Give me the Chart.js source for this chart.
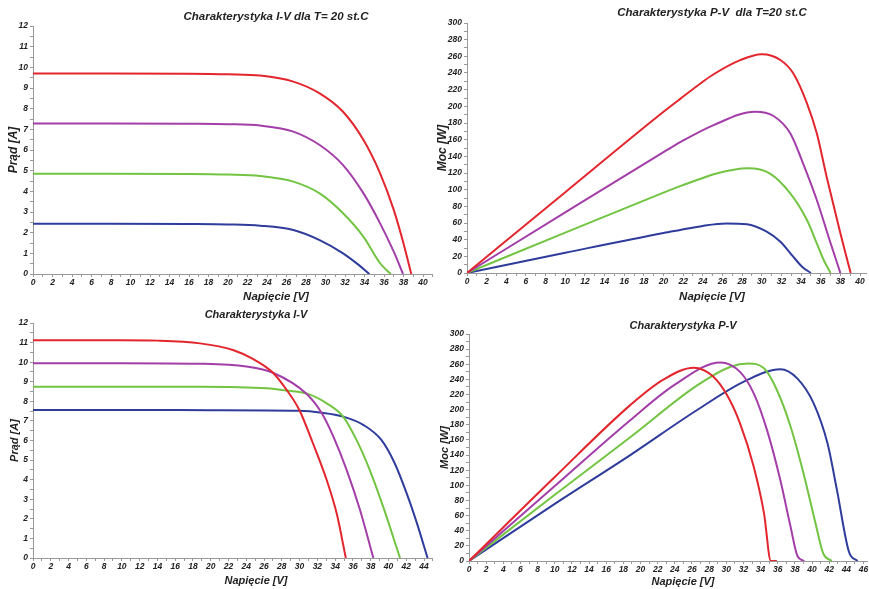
<!DOCTYPE html>
<html>
<head>
<meta charset="utf-8">
<script src="https://cdn.jsdelivr.net/npm/chart.js@4"></script>
<style>
    html, body { margin: 0; padding: 0; background: #fff; overflow: hidden; }
    body { position: relative; width: 869px; height: 589px; }
    canvas { position: absolute; }
</style>
</head>
<body>
<canvas id="ivT20" width="445" height="310" style="left:0;top:0"></canvas>
<canvas id="pvT20" width="450" height="310" style="left:425px;top:0"></canvas>
<canvas id="ivTemp" width="445" height="295" style="left:0;top:295px"></canvas>
<canvas id="pvTemp" width="450" height="295" style="left:425px;top:295px"></canvas>
<script>
// ── Charakterystyka I-V dla T=20 st.C ──
const ivT20RedV = [0, 8, 16, 20, 23.3, 26.7, 29.4, 31.8, 33.9, 35.6, 37.0, 38.0, 38.8];
const ivT20RedI = [9.7, 9.7, 9.69, 9.66, 9.6, 9.31, 8.74, 7.85, 6.48, 4.87, 3.1, 1.48, 0];
const ivT20PurpleV = [0, 8, 16, 20, 23.3, 26.7, 29.4, 31.8, 33.9, 35.6, 37.0, 37.95];
const ivT20PurpleI = [7.28, 7.28, 7.27, 7.25, 7.18, 6.89, 6.24, 5.27, 3.9, 2.45, 1.08, 0];
const ivT20GreenV = [0, 8, 16, 20, 23.3, 26.7, 29.4, 31.8, 33.9, 35.6, 36.7];
const ivT20GreenI = [4.85, 4.85, 4.84, 4.81, 4.74, 4.47, 3.9, 2.94, 1.8, 0.52, 0];
const ivT20BlueV = [0, 8, 16, 20, 23.3, 26.7, 29.4, 31.8, 33.4, 34.5];
const ivT20BlueI = [2.43, 2.43, 2.42, 2.4, 2.34, 2.13, 1.64, 1.0, 0.44, 0];

// ── Charakterystyka P-V dla T=20 st.C ──
const pvT20RedV = [0, 10, 20, 21.7, 24, 25.1, 27.8, 30.0, 31.9, 33.2, 34.6, 35.6, 36.6, 38.0, 39.05];
const pvT20RedP = [0, 97, 193.5, 209, 229.5, 238.5, 255.5, 262.5, 255.6, 239.6, 203.6, 167.6, 115.6, 47.6, 0];
const pvT20PurpleV = [0, 10, 20, 21.7, 25.1, 29.3, 31.2, 32.9, 34.2, 35.6, 36.9, 38.0];
const pvT20PurpleP = [0, 72.8, 145, 157, 177.5, 193.6, 188.4, 167.6, 131.6, 87.6, 39.6, 0];
const pvT20GreenV = [0, 10, 20, 21.7, 24, 25.1, 28.6, 30.8, 32.9, 34.6, 35.6, 36.3, 37.0];
const pvT20GreenP = [0, 48.5, 96.5, 104.3, 114, 118.5, 125.6, 119.6, 95.6, 63.6, 35.6, 15.6, 0];
const pvT20BlueV = [0, 10, 20, 21.7, 24, 26.4, 28.5, 30.5, 31.9, 33.2, 34.1, 35.0];
const pvT20BlueP = [0, 24.3, 48, 51.6, 56.5, 59.3, 58.6, 49.6, 37.6, 19.6, 7.6, 0];

// ── Charakterystyka I-V (rozne temperatury) ──
const ivTempRedV = [0, 10, 14, 18.8, 22.5, 24.8, 27.0, 28.55, 29.97, 31.5, 33.05, 34.17, 35.2];
const ivTempRedI = [11.12, 11.12, 11.1, 10.96, 10.62, 10.15, 9.46, 8.58, 7.56, 5.86, 3.98, 2.28, 0];
const ivTempPurpleV = [0, 10, 18.8, 24, 27.0, 30.8, 32.5, 33.8, 35.3, 36.8, 38.3];
const ivTempPurpleI = [9.95, 9.95, 9.92, 9.78, 9.46, 8.37, 7.39, 6.2, 4.49, 2.45, 0];
const ivTempGreenV = [0, 10, 18.8, 26.3, 28.55, 31.0, 33.05, 34.9, 36.4, 37.9, 39.4, 41.3];
const ivTempGreenI = [8.75, 8.75, 8.75, 8.67, 8.55, 8.37, 7.9, 7.22, 6.03, 4.49, 2.62, 0];
const ivTempBlueV = [0, 10, 20, 29.97, 32.5, 34.9, 37.2, 39.2, 40.7, 42.05, 43.2, 44.4];
const ivTempBlueI = [7.56, 7.56, 7.55, 7.52, 7.42, 7.22, 6.79, 6.03, 4.84, 3.3, 1.78, 0];

// ── Charakterystyka P-V (rozne temperatury) ──
const pvTempRedV = [0, 10, 18.8, 22.7, 26.2, 28.5, 30.1, 31.6, 33.2, 34.4, 35.2, 35.9];
const pvTempRedP = [0, 111, 206, 240, 255.5, 243.6, 219, 182, 124.6, 63, 0, 0];
const pvTempPurpleV = [0, 10, 18.8, 24, 29.3, 31.6, 33.2, 34.75, 36.3, 37.5, 38.3, 39.1];
const pvTempPurpleP = [0, 99, 186, 233, 262.5, 250, 221.6, 173, 107, 45, 6.6, 0];
const pvTempGreenV = [0, 10, 18.8, 26.6, 30.5, 32.6, 34.4, 35.9, 37.5, 39.0, 40.4, 41.3, 42.3];
const pvTempGreenP = [0, 87.5, 163.5, 232, 256.8, 261, 254.6, 226, 177.5, 116, 50, 10, 0];
const pvTempBlueV = [0, 10, 18.8, 26.6, 32.4, 36.3, 38.3, 40.2, 41.8, 42.9, 44.3, 45.3];
const pvTempBlueP = [0, 75.5, 140, 199.6, 239, 253.3, 241, 208, 155.5, 94, 12.3, 0];

const seriesColors = ['#e3262d', '#a33ea9', '#72c442', '#2f3c9c'];
const FONT = '"Liberation Sans", Arial, sans-serif';
const textColor = '#222';
const axisColor = '#999';

function zip(xs, ys) {
    return xs.map((x, i) => ({ x: x, y: ys[i] }));
}

// free-placed texts (chart title, x axis title)
function labelPlugin(items) {
    return {
        id: 'freeLabels',
        afterDraw(chart) {
            const ctx = chart.ctx;
            ctx.save();
            ctx.fillStyle = textColor;
            ctx.textAlign = 'center';
            ctx.textBaseline = 'middle';
            items.forEach(t => {
                ctx.font = 'italic bold ' + t.size + 'px ' + FONT;
                ctx.fillText(t.text, t.x, t.y);
            });
            ctx.restore();
        }
    };
}

function makeChart(id, cfg) {
    const canvas = document.getElementById(id);
    const W = canvas.width, H = canvas.height;
    const a = cfg.area;
    const tickFont = { family: FONT, size: 8.5, style: 'italic', weight: 'bold' };

    return new Chart(canvas, {
        type: 'line',
        data: {
            datasets: cfg.series.map((s, i) => ({
                data: zip(s[0], s[1]),
                borderColor: seriesColors[i],
                borderWidth: 2,
                pointRadius: 0,
                fill: false,
                cubicInterpolationMode: 'monotone'
            }))
        },
        options: {
            responsive: false,
            animation: false,
            events: [],
            layout: { padding: { left: 0, top: a.top, right: W - a.right, bottom: 0 } },
            plugins: { legend: { display: false }, tooltip: { enabled: false } },
            scales: {
                x: {
                    type: 'linear',
                    min: 0,
                    max: cfg.xMax,
                    afterFit: s => { s.height = H - a.bottom; },
                    ticks: {
                        stepSize: 1,
                        autoSkip: false,
                        maxRotation: 0,
                        includeBounds: false,
                        padding: 1,
                        color: textColor,
                        font: tickFont,
                        callback: v => (v % 2 === 0 ? v : '')
                    },
                    grid: { drawOnChartArea: false, tickLength: 3, color: axisColor },
                    border: { color: axisColor }
                },
                y: {
                    min: 0,
                    max: cfg.yMax,
                    afterFit: s => { s.width = a.left; },
                    title: {
                        display: true,
                        text: cfg.yTitle,
                        color: textColor,
                        font: { family: FONT, size: cfg.yTitleSize, style: 'italic', weight: 'bold' },
                        padding: { top: cfg.yTitlePad, bottom: 0 }
                    },
                    ticks: {
                        stepSize: cfg.yStep,
                        autoSkip: false,
                        padding: 2,
                        color: textColor,
                        font: tickFont,
                        callback: v => (Math.abs(v / cfg.yLabelStep - Math.round(v / cfg.yLabelStep)) < 1e-6 ? v : '')
                    },
                    grid: { drawOnChartArea: false, tickLength: 3, color: axisColor },
                    border: { color: axisColor }
                }
            }
        },
        plugins: [labelPlugin(cfg.labels)]
    });
}

makeChart('ivT20', {
    area: { left: 33, top: 26, right: 432.75, bottom: 274 },
    xMax: 41, yMax: 12, yStep: 0.5, yLabelStep: 1,
    yTitle: 'Prąd [A]', yTitleSize: 12, yTitlePad: 6,
    series: [[ivT20RedV, ivT20RedI], [ivT20PurpleV, ivT20PurpleI], [ivT20GreenV, ivT20GreenI], [ivT20BlueV, ivT20BlueI]],
    labels: [
        { text: 'Charakterystyka I-V dla T= 20 st.C', x: 276, y: 17, size: 11.5 },
        { text: 'Napięcie [V]', x: 276, y: 297, size: 11.5 }
    ]
});

makeChart('pvT20', {
    area: { left: 42, top: 23, right: 441.9, bottom: 273 },
    xMax: 40.7, yMax: 300, yStep: 10, yLabelStep: 20,
    yTitle: 'Moc [W]', yTitleSize: 12, yTitlePad: 10,
    series: [[pvT20RedV, pvT20RedP], [pvT20PurpleV, pvT20PurpleP], [pvT20GreenV, pvT20GreenP], [pvT20BlueV, pvT20BlueP]],
    labels: [
        { text: 'Charakterystyka P-V  dla T=20 st.C', x: 287, y: 13, size: 11.5 },
        { text: 'Napięcie [V]', x: 287, y: 297, size: 11.5 }
    ]
});

makeChart('ivTemp', {
    area: { left: 33, top: 28, right: 432.9, bottom: 263 },
    xMax: 45, yMax: 12, yStep: 0.5, yLabelStep: 1,
    yTitle: 'Prąd [A]', yTitleSize: 11, yTitlePad: 8,
    series: [[ivTempRedV, ivTempRedI], [ivTempPurpleV, ivTempPurpleI], [ivTempGreenV, ivTempGreenI], [ivTempBlueV, ivTempBlueI]],
    labels: [
        { text: 'Charakterystyka I-V', x: 256, y: 19.5, size: 11 },
        { text: 'Napięcie [V]', x: 256, y: 285.5, size: 11 }
    ]
});

makeChart('pvTemp', {
    area: { left: 44, top: 39, right: 442.8, bottom: 266 },
    xMax: 46.5, yMax: 300, yStep: 10, yLabelStep: 20,
    yTitle: 'Moc [W]', yTitleSize: 11, yTitlePad: 13,
    series: [[pvTempRedV, pvTempRedP], [pvTempPurpleV, pvTempPurpleP], [pvTempGreenV, pvTempGreenP], [pvTempBlueV, pvTempBlueP]],
    labels: [
        { text: 'Charakterystyka P-V', x: 258, y: 30.5, size: 11 },
        { text: 'Napięcie [V]', x: 258, y: 287, size: 11 }
    ]
});
</script>
</body>
</html>
